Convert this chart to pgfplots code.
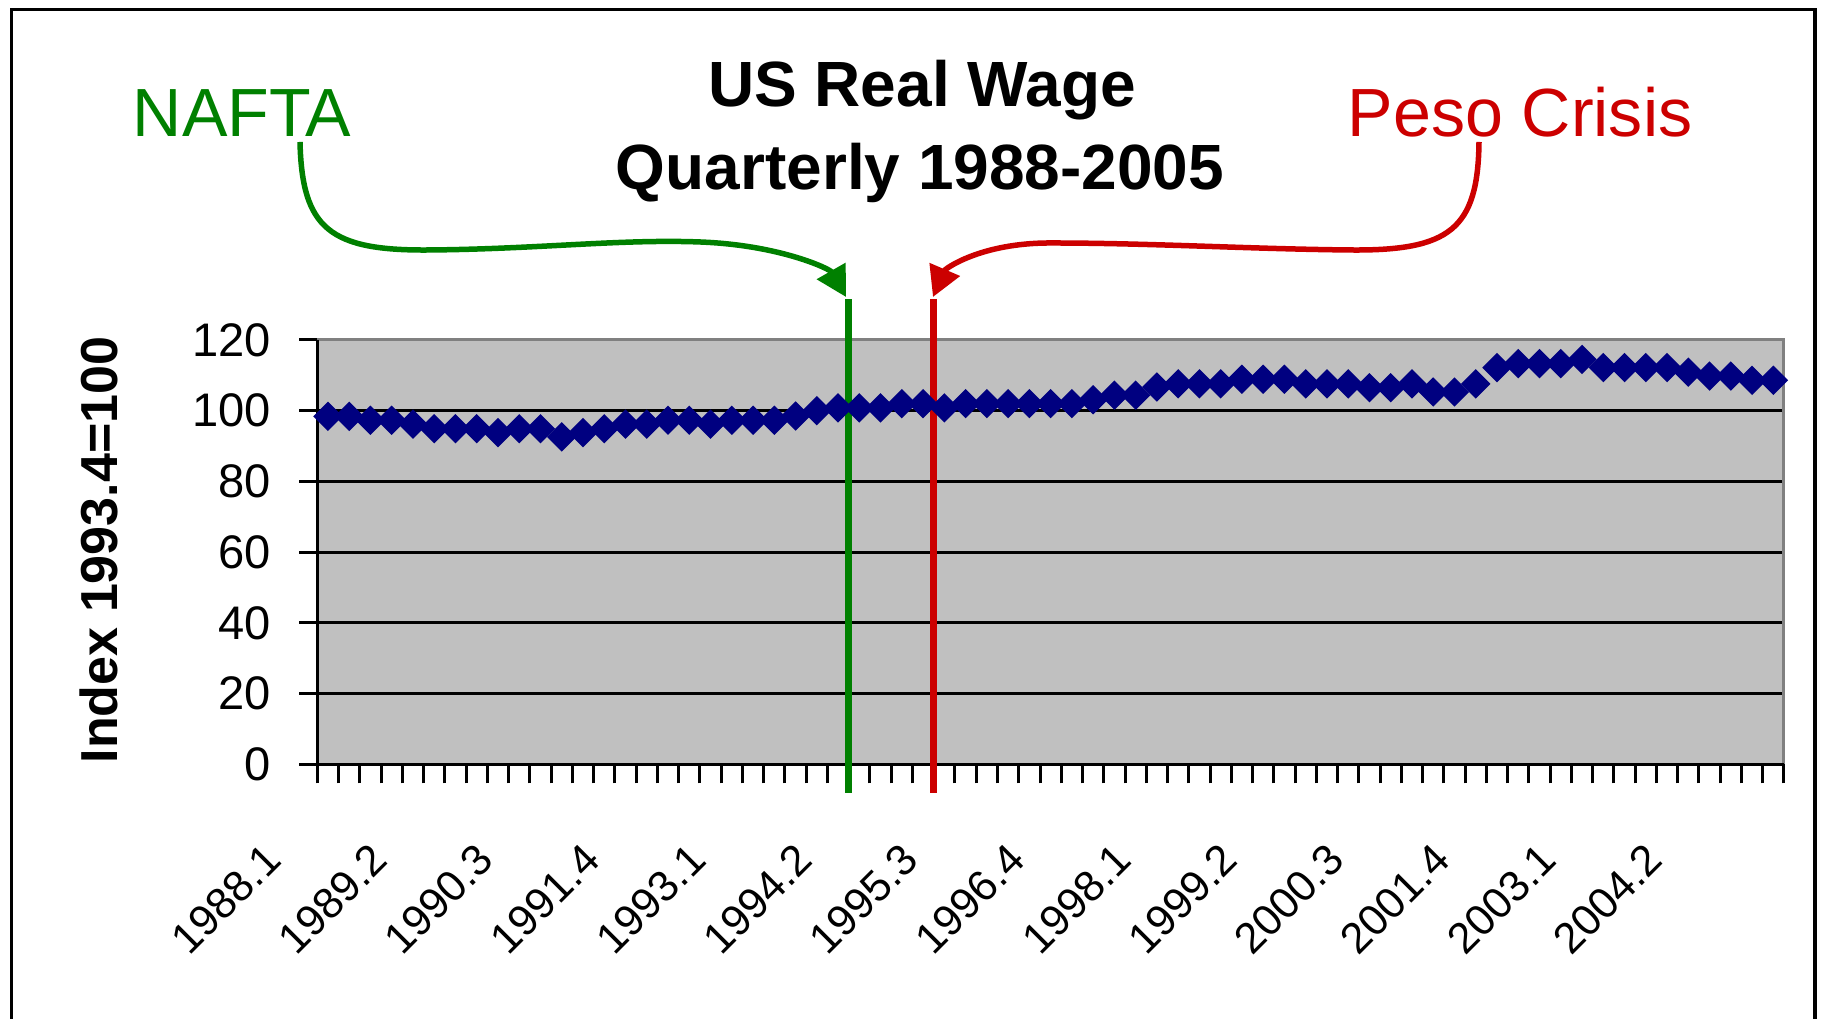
\documentclass[border=0pt]{standalone}
\usepackage{fontspec}
\setmainfont{Liberation Sans}
\usepackage{pgfplots}
\pgfplotsset{compat=1.18}
\usepackage{pgfplotstable}
\usetikzlibrary{arrows.meta}
\definecolor{navy}{HTML}{000080}
\definecolor{bggray}{HTML}{C0C0C0}
\definecolor{framegray}{HTML}{808080}
\definecolor{nafta}{HTML}{008000}
\definecolor{peso}{HTML}{CC0000}

\pgfplotstableread{
idx val
0 98.4
1 98.4
2 97.3
3 97.3
4 96.2
5 94.9
6 94.9
7 94.9
8 93.8
9 94.9
10 94.9
11 92.6
12 93.8
13 94.9
14 96.2
15 96.2
16 97.3
17 97.3
18 96.2
19 97.3
20 97.3
21 97.3
22 98.5
23 100.0
24 100.8
25 100.8
26 100.8
27 102.0
28 102.0
29 100.8
30 102.0
31 102.0
32 102.0
33 102.0
34 102.0
35 102.0
36 103.1
37 104.4
38 104.4
39 106.7
40 107.6
41 107.6
42 107.6
43 108.9
44 108.9
45 108.9
46 107.6
47 107.6
48 107.6
49 106.5
50 106.5
51 107.6
52 105.3
53 105.3
54 107.6
55 112.2
56 113.3
57 113.3
58 113.3
59 114.5
60 112.2
61 112.2
62 112.2
63 112.2
64 110.9
65 109.8
66 109.8
67 108.6
68 108.6
}\wage

\begin{document}
\begin{tikzpicture}[x=0.1mm,y=0.1mm]
\useasboundingbox (0,0) rectangle (1822,1019);
% outer frame
\draw[black, line width=0.35mm] (11.6,-50) -- (11.6,1009.7) -- (1815,1009.7) -- (1815,-50);

% titles
\node[anchor=base, inner sep=0pt, font=\fontsize{18.2pt}{22pt}\selectfont\bfseries] at (922,912) {US Real Wage};
\node[anchor=base, inner sep=0pt, font=\fontsize{18.2pt}{22pt}\selectfont\bfseries] at (920,829.5) {Quarterly 1988-2005};
\node[anchor=base, inner sep=0pt, text=nafta, font=\fontsize{19.4pt}{23pt}\selectfont] at (242,882) {NAFTA};
\node[anchor=base, inner sep=0pt, text=peso, font=\fontsize{19.4pt}{23pt}\selectfont] at (1520,882) {Peso Crisis};

% y axis title
\node[rotate=90, inner sep=0pt, font=\fontsize{14.8pt}{18pt}\selectfont\bfseries] at (99,469) {Index 1993.4=100};

% annotation arrows
\draw[nafta, line width=0.55mm, -{Triangle[length=3mm,width=3.2mm]}]
  (300,877) .. controls (302,790) and (330,768) .. (430,769)
  .. controls (540,770) and (620,780) .. (700,777)
  .. controls (780,774) and (830,750) .. (846,722);
\draw[peso, line width=0.55mm, -{Triangle[length=3mm,width=3.2mm]}]
  (1479,877) .. controls (1478,790) and (1450,768) .. (1350,769)
  .. controls (1250,770) and (1150,776) .. (1050,776)
  .. controls (980,776) and (945,750) .. (933,722);

\begin{axis}[
  at={(31.73mm,25.47mm)}, anchor=south west,
  scale only axis, width=146.67mm, height=42.43mm,
  xmin=-0.5, xmax=68.5, ymin=0, ymax=120,
  clip=false,
  axis line style={draw=none},
  axis background/.style={fill=bggray},
  ytick={0,20,...,120},
  ymajorgrids,
  grid style={black, line width=0.3mm},
  xtick={0,5,...,65},
  xticklabels={1988.1,1989.2,1990.3,1991.4,1993.1,1994.2,1995.3,1996.4,1998.1,1999.2,2000.3,2001.4,2003.1,2004.2},
  minor xtick={-0.5,0.5,...,68.5},
  major x tick style={draw=none},
  tick align=outside,
  xtick pos=left, ytick pos=left,
  tick style={black, line width=0.3mm},
  major tick length=1.8mm,
  minor tick length=1.9mm,
  /pgf/number format/assume math mode=true,
  yticklabel style={font=\fontsize{13.4pt}{16pt}\selectfont, anchor=east, inner sep=0pt, xshift=-2.76mm},
  xticklabel style={font=\fontsize{12.3pt}{14pt}\selectfont, inner sep=0pt, xshift=-6.6mm, yshift=-5.8mm, rotate=45, anchor=north east},
]
\addplot[only marks, mark=square*, mark size=0.97mm, mark options={rotate=45, fill=navy, draw=navy}] table[x=idx, y=val] {\wage};
% frame
\draw[framegray, line width=0.3mm] (axis cs:-0.5,120) -- (axis cs:68.5,120) -- (axis cs:68.5,0);
\draw[black, line width=0.3mm] (axis cs:-0.5,120) -- (axis cs:-0.5,0) -- (axis cs:68.5,0);
% event lines
\draw[nafta, line width=0.67mm] (axis cs:24.5,-8.1) -- (axis cs:24.5,131.7);
\draw[peso, line width=0.67mm] (axis cs:28.5,-8.1) -- (axis cs:28.5,131.7);
\end{axis}
\end{tikzpicture}
\end{document}
